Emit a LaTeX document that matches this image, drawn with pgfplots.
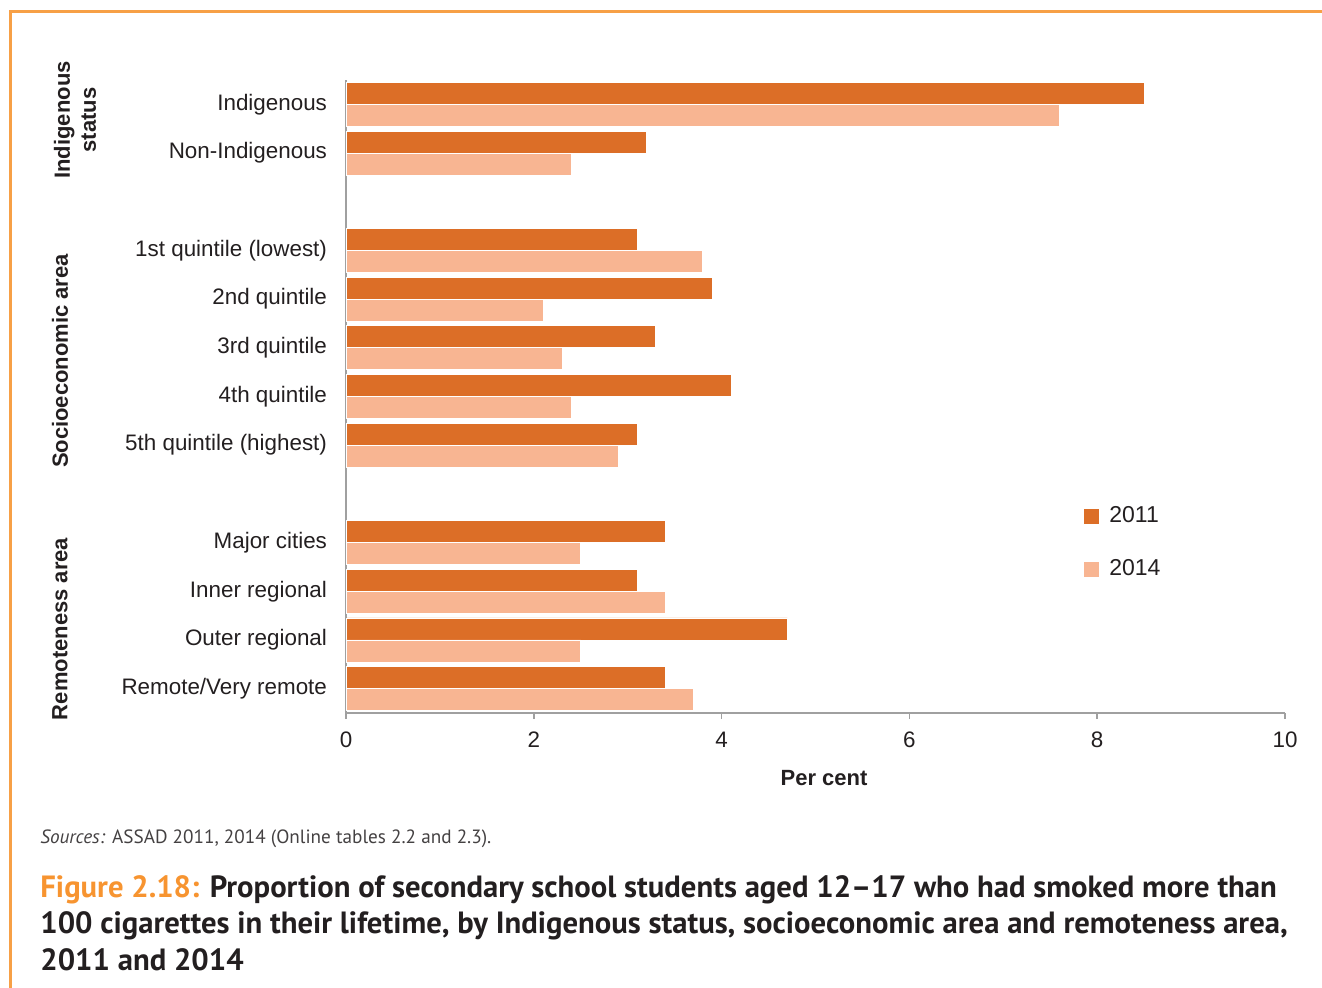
\documentclass[border=0pt]{standalone}
\usepackage{fontspec}
\setmainfont{Liberation Sans}
\newfontfamily\capfont{PT Sans}
\usepackage{pgfplots}
\pgfplotsset{compat=1.18}
\usepackage{pgfplotstable}

\definecolor{cA}{RGB}{220,110,39}
\definecolor{cB}{RGB}{248,181,146}
\definecolor{cBleg}{RGB}{249,173,94}
\definecolor{border}{RGB}{247,160,70}
\definecolor{figorange}{RGB}{247,148,48}
\definecolor{txt}{RGB}{35,31,32}
\definecolor{axgrey}{RGB}{160,160,160}

\pgfplotstableread{
pos v2011 v2014
0 8.5 7.6
1 3.2 2.4
3 3.1 3.8
4 3.9 2.1
5 3.3 2.3
6 4.1 2.4
7 3.1 2.9
9 3.4 2.5
10 3.1 3.4
11 4.7 2.5
12 3.4 3.7
}\datatable

\begin{document}
\begin{tikzpicture}
\path[use as bounding box] (0,0) rectangle (661bp,-494bp);
\draw[border, line width=1.5bp] (5bp,-494bp) -- (5bp,-5.5bp) -- (661bp,-5.5bp);

\begin{axis}[
  at={(173bp,-40bp)}, anchor=north west,
  scale only axis, width=469.5bp, height=316.5bp,
  xmin=0, xmax=10, ymin=-0.5, ymax=12.5,
  y dir=reverse,
  axis x line*=bottom, axis y line*=left,
  axis line style={axgrey, line width=0.8bp},
  xtick={0,2,...,10},
  xtick style={axgrey, line width=0.8bp},
  tick align=outside, major tick length=3bp,
  ytick={0,1,3,4,5,6,7,9,10,11,12},
  yticklabels={Indigenous,Non-Indigenous,1st quintile (lowest),2nd quintile,3rd quintile,4th quintile,5th quintile (highest),Major cities,Inner regional,Outer regional,Remote/Very remote},
  ytick style={draw=none},
  /pgf/number format/assume math mode=true,
  tick label style={font=\fontsize{11.2bp}{13bp}\selectfont, text=txt},
  yticklabel style={xshift=-3bp},
  xticklabel style={yshift=-3bp},
  xbar, bar width=0.452, bar shift=0pt,
  legend style={at={(rel axis cs:0.784,0.333)}, anchor=north west, draw=none, fill=none,
    font=\fontsize{11.5bp}{13bp}\selectfont, text=txt, row sep=13bp, inner sep=0pt,
    /tikz/every odd column/.append style={column sep=3bp}},
  legend cell align=left,
  legend image code/.code={\fill (0bp,-4bp) rectangle (8bp,4bp);},
]
\addplot[fill=cA, draw=white, line width=0.4bp] table[x=v2011, y expr=\thisrow{pos}-0.226] {\datatable};
\addplot[fill=cB, draw=white, line width=0.4bp] table[x=v2014, y expr=\thisrow{pos}+0.226] {\datatable};
\legend{}
\addlegendimage{fill=cA}
\addlegendentry{2011}
\addlegendimage{fill=cBleg}
\addlegendentry{2014}
\end{axis}

\node[font=\bfseries\fontsize{11bp}{13bp}\selectfont, text=txt] at (412bp,-389bp) {Per cent};

\node[font=\bfseries\fontsize{11bp}{13bp}\selectfont, text=txt, rotate=90, align=center] at (37.5bp,-60bp) {Indigenous\\status};
\node[font=\bfseries\fontsize{11bp}{13bp}\selectfont, text=txt, rotate=90] at (30bp,-180.5bp) {Socioeconomic area};
\node[font=\bfseries\fontsize{11bp}{13bp}\selectfont, text=txt, rotate=90] at (30bp,-314.5bp) {Remoteness area};

\node[anchor=base west, inner sep=0pt, font=\capfont\fontsize{9.6bp}{11bp}\selectfont, text=txt!85] at (20bp,-421.5bp) {\textit{Sources:} ASSAD 2011, 2014 (Online tables 2.2 and 2.3).};

\node[anchor=base west, inner sep=0pt, font=\capfont\bfseries\fontsize{15.35bp}{18bp}\selectfont, text=txt] at (20bp,-448.5bp) {\textcolor{figorange}{Figure 2.18:} Proportion of secondary school students aged 12–17 who had smoked more than};
\node[anchor=base west, inner sep=0pt, font=\capfont\bfseries\fontsize{15.35bp}{18bp}\selectfont, text=txt] at (20bp,-466.7bp) {100 cigarettes in their lifetime, by Indigenous status, socioeconomic area and remoteness area,};
\node[anchor=base west, inner sep=0pt, font=\capfont\bfseries\fontsize{15.35bp}{18bp}\selectfont, text=txt] at (20bp,-485bp) {2011 and 2014};
\end{tikzpicture}
\end{document}
